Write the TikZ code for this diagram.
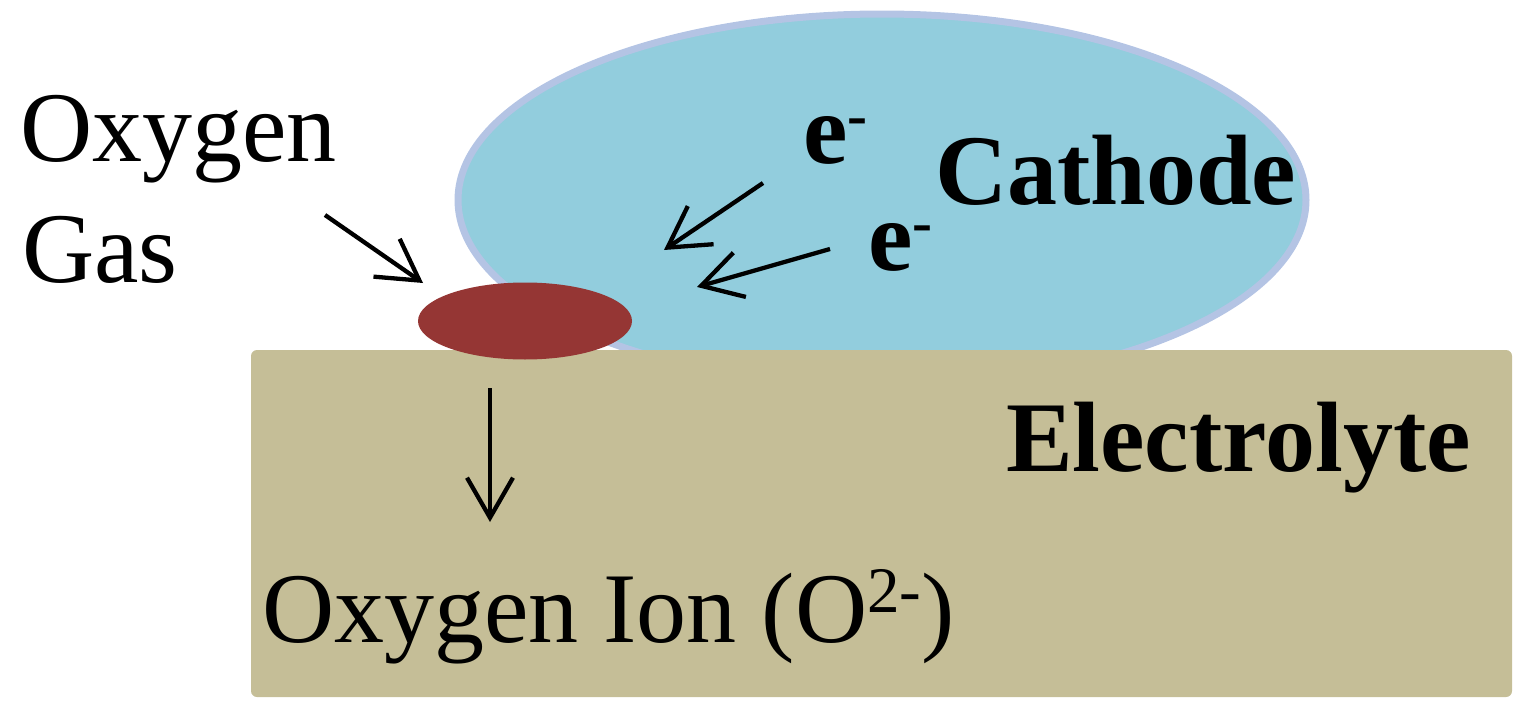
\documentclass[tikz,border=0pt]{standalone}
\usepackage{fontspec}
\setmainfont{Liberation Serif}
\usetikzlibrary{arrows.meta,shapes.geometric}
\definecolor{cathfill}{RGB}{146,205,221}
\definecolor{cathline}{RGB}{180,196,228}
\definecolor{elecfill}{RGB}{197,190,151}
\definecolor{sitefill}{RGB}{149,54,52}
\tikzset{
  lbl/.style={anchor=base west, inner sep=0pt, outer sep=0pt, font=\fontsize{100}{100}\selectfont},
  blbl/.style={anchor=base west, inner sep=0pt, outer sep=0pt, font=\fontsize{100}{100}\selectfont\bfseries},
  arr/.style={line width=4.3pt, -{Straight Barb[length=40pt,width=46pt]}},
  cathodeshape/.style={ellipse, draw=cathline, line width=7pt, fill=cathfill, inner sep=0pt},
  elecshape/.style={rectangle, rounded corners=6pt, fill=elecfill, inner sep=0pt},
  siteshape/.style={ellipse, fill=sitefill, inner sep=0pt},
}
\begin{document}
\begin{tikzpicture}[x=1pt,y=-1pt]
\useasboundingbox (0,0) rectangle (1527,720);
\node[cathodeshape, minimum width=848pt, minimum height=372pt] (cathode) at (882,200) {};
\node[elecshape, minimum width=1261pt, minimum height=347pt] (electrolyte) at (881.5,523.5) {};
\node[siteshape, minimum width=214pt, minimum height=77pt] (site) at (525,321) {};

\node[lbl] (ox1) at (20,161) {Oxygen};
\node[lbl] (ox2) at (22,282) {Gas};
\node[lbl] (ion) at (262,642) {Oxygen Ion (O\raisebox{30pt}{\fontsize{65}{65}\selectfont 2-})};
\node[blbl] (cath) at (935,204) {Cathode};
\node[blbl] (elec) at (1006,471) {Electrolyte};
\node[blbl] (e1) at (803,163) {e\raisebox{28pt}{\fontsize{60}{60}\selectfont -}};
\node[blbl] (e2) at (868,270) {e\raisebox{28pt}{\fontsize{60}{60}\selectfont -}};

\coordinate (gasS) at (325,215);
\coordinate (gasE) at (423,283);
\coordinate (ionS) at (490,388);
\coordinate (ionE) at (490,522);
\coordinate (eaS) at (763,183);
\coordinate (eaE) at (664,250);
\coordinate (ebS) at (830,249);
\coordinate (ebE) at (697,287);
\draw[arr] (gasS) -- (gasE);
\draw[arr] (ionS) -- (ionE);
\draw[arr] (eaS) -- (eaE);
\draw[arr] (ebS) -- (ebE);
\end{tikzpicture}
\end{document}
